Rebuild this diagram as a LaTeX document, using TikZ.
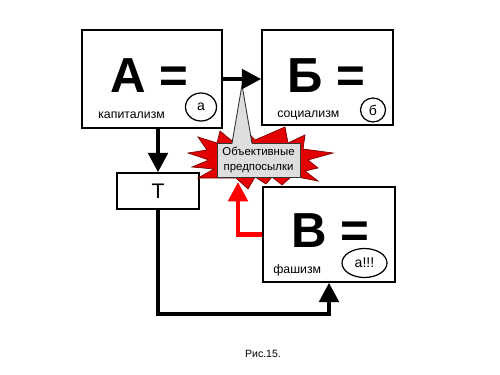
\documentclass[tikz,border=0pt]{standalone}
\usepackage{fontspec}
\setmainfont{Liberation Sans}
\usetikzlibrary{arrows.meta}
\definecolor{starred}{RGB}{226,0,0}
\definecolor{callgray}{RGB}{222,222,222}
\tikzset{
  box/.style={draw=black,line width=0.9pt,fill=white,inner sep=0pt},
  big/.style={font=\fontsize{28}{30}\selectfont\bfseries,inner sep=0pt,text depth=0pt,anchor=base},
  small/.style={font=\fontsize{7}{8}\selectfont,inner sep=0pt,anchor=base west},
  oval/.style={draw=black,line width=0.7pt,ellipse,inner sep=0pt},
  arr/.style={line width=2.4pt,-{Triangle[length=11pt,width=11pt]}},
}
\usetikzlibrary{shapes.geometric}
\begin{document}
\begin{tikzpicture}[x=0.02cm,y=-0.02cm]
\useasboundingbox[fill=white] (0,0) rectangle (500,375);

% boxes
\node[box,minimum width=2.8cm,minimum height=1.96cm] (A) at (152,79) {};
\node[box,minimum width=2.62cm,minimum height=1.9cm] (B) at (327.5,77.5) {};
\node[box,minimum width=2.64cm,minimum height=1.9cm] (V) at (329,234.5) {};
\node[box,minimum width=1.64cm,minimum height=0.72cm,font=\fontsize{12}{14}\selectfont] (T) at (158,191) {Т};

% big letters
\node[big] (At) at (149,92) {А =};
\node[big] (Bt) at (326,92) {Б =};
\node[big] (Vt) at (330,247.5) {В =};

% small labels
\node[small] (Al) at (98,118) {капитализм};
\node[small] (Bl) at (277,117) {социализм};
\node[small] (Vl) at (273,273) {фашизм};

% ovals
\node[oval,minimum width=0.62cm,minimum height=0.56cm,font=\fontsize{8}{9}\selectfont] (Ao) at (201,107) {а};
\node[oval,minimum width=0.5cm,minimum height=0.48cm,font=\fontsize{8}{9}\selectfont] (Bo) at (373,110) {б};
\node[oval,minimum width=0.9cm,minimum height=0.58cm,font=\fontsize{8}{9}\selectfont] (Vo) at (364.5,263) {а!!!};

% star burst
\draw[fill=starred,draw=red!50!black,line width=0.4pt]
 (188,153) -- (207,150) -- (198,137) -- (217,143) -- (220,131) -- (232,141)
 -- (240,124) -- (255,140) -- (285,127) -- (288,143) -- (305,135) -- (303,149)
 -- (333,153) -- (308,160) -- (318,168) -- (305,171) -- (318,181) -- (292,176)
 -- (282,185) -- (272,177) -- (266,184) -- (255,177) -- (248,189) -- (236,178)
 -- (198,178) -- (214,169) -- (192,167) -- (209,160) -- cycle;

% callout
\node[draw=black!80,fill=callgray,line width=0.5pt,minimum width=1.66cm,minimum height=0.68cm,
      inner sep=1pt,align=center,font=\fontsize{6.5}{8}\selectfont] (C) at (258.5,160)
      {Объективные\\предпосылки};
\coordinate (ptip) at (242,85);
\fill[callgray] (232,145) -- (ptip) -- (252,145) -- cycle;
\draw[black!80,line width=0.5pt] (232,143.3) -- (ptip) -- (252,143.3);

% connectors
\draw[arr] (A.east) -- (A.east -| B.west);
\draw[arr] (T.north |- A.south) -- (T.north);
\coordinate (c1) at (158,314);
\draw[arr] (T.south) |- (c1 -| V.south) -- (V.south);
\coordinate (rtip) at (238,182);
\draw[arr,red] (V.west) -| (rtip);

% caption
\node[font=\fontsize{6}{7}\selectfont,inner sep=0pt] (cap) at (263,354) {Рис.15.};
\end{tikzpicture}
\end{document}
